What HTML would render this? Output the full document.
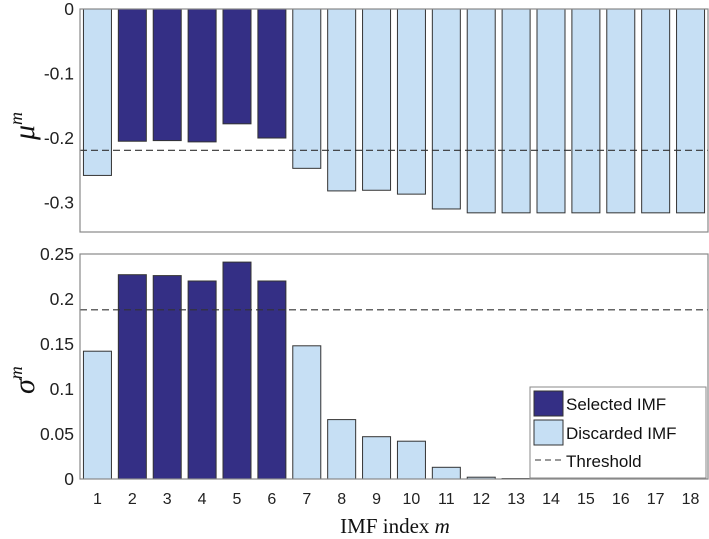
<!DOCTYPE html>
<html><head><meta charset="utf-8"><style>
html,body{margin:0;padding:0;background:#fff;}
svg{display:block;font-family:"Liberation Sans",sans-serif;}
</style></head><body>
<svg id="chart" width="709" height="539" xmlns="http://www.w3.org/2000/svg"></svg>
<script>
const categories = [1,2,3,4,5,6,7,8,9,10,11,12,13,14,15,16,17,18];
const selected = [0,1,1,1,1,1,0,0,0,0,0,0,0,0,0,0,0,0];
const muValues = [-0.258,-0.205,-0.204,-0.206,-0.178,-0.2,-0.247,-0.282,-0.281,-0.287,-0.31,-0.316,-0.316,-0.316,-0.316,-0.316,-0.316,-0.316];
const sigmaValues = [0.142,0.227,0.226,0.22,0.241,0.22,0.148,0.066,0.047,0.042,0.013,0.002,0.0005,0,0,0,0,0];
const muThreshold = -0.219;
const sigmaThreshold = 0.188;
const muTicks = [0,-0.1,-0.2,-0.3];
const muTickLabels = ["0","-0.1","-0.2","-0.3"];
const sigmaTicks = [0,0.05,0.1,0.15,0.2,0.25];
const sigmaTickLabels = ["0","0.05","0.1","0.15","0.2","0.25"];

const NS="http://www.w3.org/2000/svg";
const svg=document.getElementById('chart');
function mk(tag,attrs,parent){const e=document.createElementNS(NS,tag);for(const k in attrs)e.setAttribute(k,attrs[k]);(parent||svg).appendChild(e);return e;}
const L=80,R=708;
const xs=v=>L+(v-0.5)*(R-L)/18;
const DARK="#342f85",LIGHT="#c6dff4";

function panel(name,top,bottom,ymin,ymax,vals,thr,ticks,labels){
  const ys=v=>bottom-(v-ymin)/(ymax-ymin)*(bottom-top);
  const g=mk('g',{});
  
  
  vals.forEach((v,i)=>{
    const x=xs(categories[i])-14;
    const y0=ys(0),y1=ys(v);
    const r=mk('rect',{x:x,y:Math.min(y0,y1),width:28,height:Math.max(Math.abs(y1-y0),0.01),fill:selected[i]?DARK:LIGHT,stroke:'#333','stroke-width':1},g);
    
    
  });
  const t=mk('line',{x1:L,x2:R,y1:ys(thr),y2:ys(thr),stroke:'#333','stroke-width':1.1,'stroke-dasharray':'7,4'},g);
  
  
  const box=mk('rect',{x:L,y:top,width:R-L,height:bottom-top,fill:'none',stroke:'#888','stroke-width':1.2},g);
  
  
  ticks.forEach((tv,i)=>{
    const tx=mk('text',{x:L-6,y:ys(tv)+6,'text-anchor':'end','font-size':17.5,fill:'#222'},g);
    tx.textContent=labels[i];
    
    
  });
  return ys;
}
panel('mu',9,232,-0.3457,0,muValues,muThreshold,muTicks,muTickLabels);
panel('sigma',254,479,0,0.25,sigmaValues,sigmaThreshold,sigmaTicks,sigmaTickLabels);

categories.forEach(c=>{
  const t=mk('text',{x:xs(c),y:504,'text-anchor':'middle','font-size':16,fill:'#222'});
  t.textContent=String(c);
  
  
});
</script>
<svg style="position:absolute;left:0;top:0" width="709" height="539" xmlns="http://www.w3.org/2000/svg">
<g><text transform="translate(34,140) rotate(-90)" font-family="Liberation Serif,serif" font-style="italic" font-size="30" fill="#111">μ<tspan font-size="18" dy="-12">m</tspan></text></g>
<g><text transform="translate(34,394) rotate(-90)" font-family="Liberation Serif,serif" font-style="italic" font-size="30" fill="#111">σ<tspan font-size="18" dy="-12">m</tspan></text></g>
<text x="395" y="533" text-anchor="middle" font-family="Liberation Serif,serif" font-size="21" fill="#111">IMF index <tspan font-style="italic">m</tspan></text>
<g>
<rect x="530" y="387" width="176" height="91" fill="#fff" stroke="#888" stroke-width="1"/>
<rect x="534" y="391" width="29" height="25" fill="#342f85" stroke="#333"/>
<text x="566" y="410" font-family="Liberation Sans,sans-serif" font-size="17" fill="#111">Selected IMF</text>
<rect x="534" y="420" width="29" height="25" fill="#c6dff4" stroke="#333"/>
<text x="566" y="439" font-family="Liberation Sans,sans-serif" font-size="17" fill="#111">Discarded IMF</text>
<line x1="535" x2="563" y1="460" y2="460" stroke="#333" stroke-dasharray="6,4"/>
<text x="566" y="467" font-family="Liberation Sans,sans-serif" font-size="17" fill="#111">Threshold</text>
</g>
</svg>
</body></html>
